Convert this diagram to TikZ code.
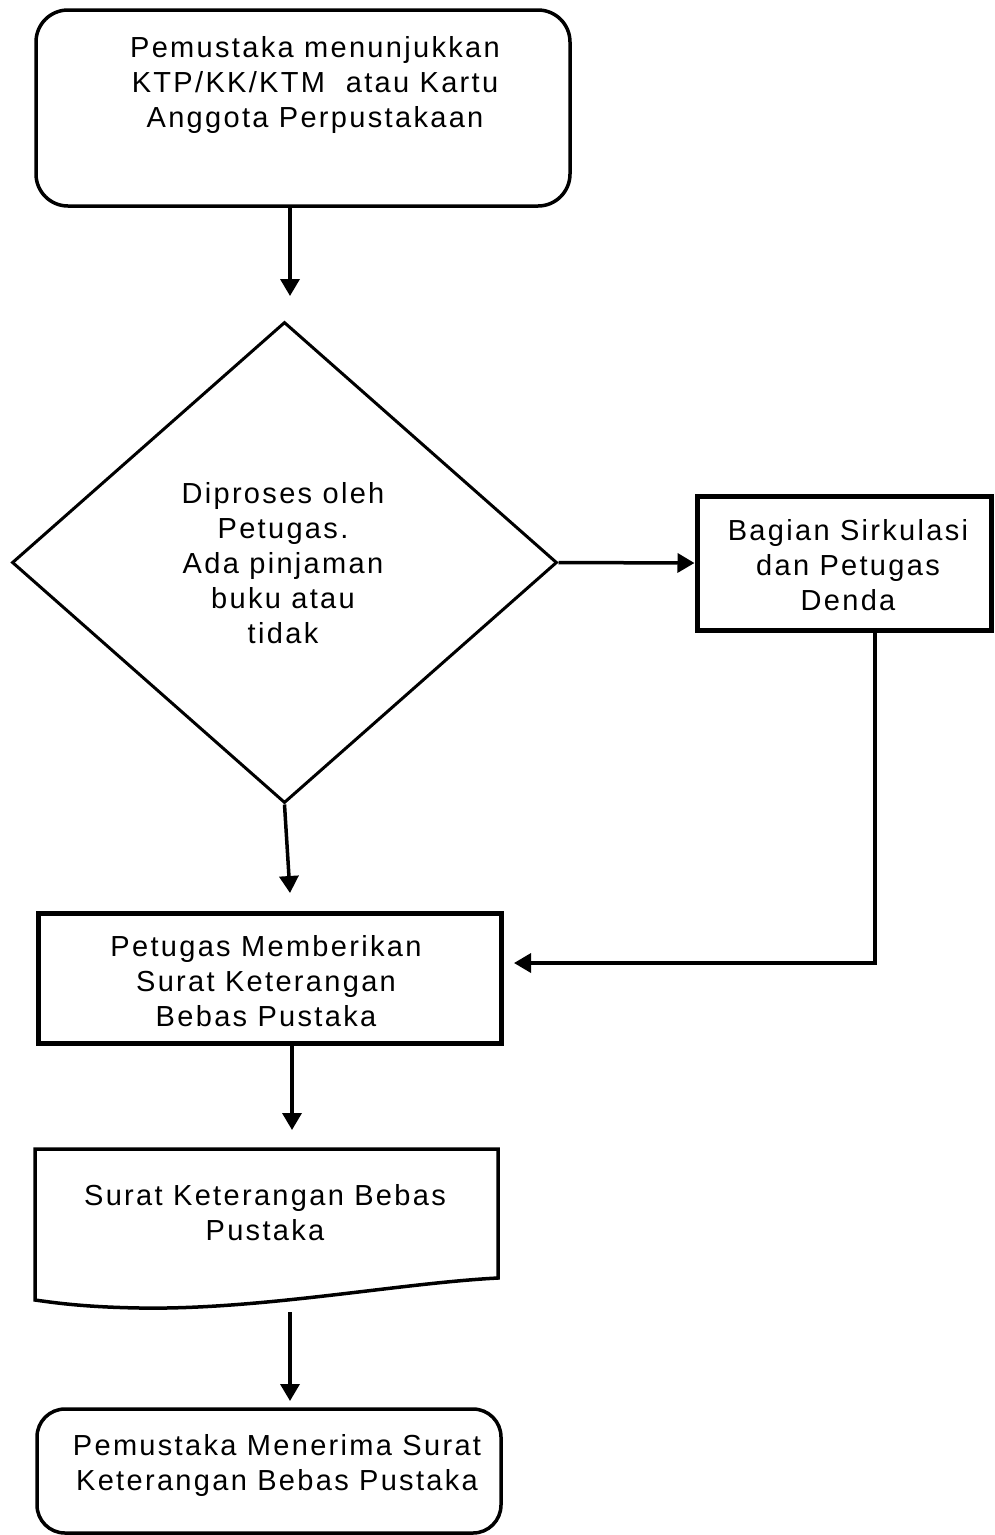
\documentclass[tikz,border=0pt]{standalone}
\usepackage{fontspec}
\setmainfont{Liberation Sans}[LetterSpace=8]
\usetikzlibrary{shapes.geometric,arrows.meta,calc}
\begin{document}
\begin{tikzpicture}[x=1pt,y=-1pt,
  txt/.style={align=center,font=\fontsize{29pt}{35pt}\selectfont,inner sep=0pt},
  rbox/.style={draw,line width=3.5pt,rounded corners=32pt,inner sep=0pt},
  pbox/.style={draw,line width=5pt,inner sep=0pt},
  arr/.style={line width=3.5pt,-{Triangle[length=17pt,width=19pt]}}]
\useasboundingbox (0,0) rectangle (994,1535);
% shapes
\node[rbox,minimum width=534pt,minimum height=196pt] (start) at (303,108) {};
\node[draw,diamond,line width=3pt,inner sep=0pt,minimum width=545pt,minimum height=481pt] (dia) at (284.5,562.5) {};
\node[pbox,minimum width=294pt,minimum height=134pt] (right) at (844,563) {};
\node[pbox,minimum width=463pt,minimum height=130pt] (box2) at (269.5,978) {};
\node[inner sep=0pt,minimum width=463pt,minimum height=151pt] (doc) at (266.5,1224.5) {};
\draw[line width=3.5pt,line join=miter] (35,1149) -- (498,1149) -- (498,1278)
  .. controls (400,1283) and (260,1310) .. (140,1308)
  .. controls (80,1307) and (50,1302) .. (35,1300) -- cycle;
\node[rbox,rounded corners=28pt,minimum width=464pt,minimum height=124pt] (fin) at (269,1471) {};
% texts
\node[txt] (startT) at (315,85) {Pemustaka menunjukkan\\KTP/KK/KTM\ \ atau Kartu\\Anggota Perpustakaan};
\node[txt] (diaT) at (283,563) {Diproses oleh\\Petugas.\\Ada pinjaman\\buku atau\\tidak};
\node[txt] (rightT) at (848,565) {Bagian Sirkulasi\\dan Petugas\\Denda};
\node[txt] (box2T) at (266,981) {Petugas Memberikan\\Surat Keterangan\\Bebas Pustaka};
\node[txt] (docT) at (265,1213) {Surat Keterangan Bebas\\Pustaka};
\node[txt] (finT) at (277,1465) {Pemustaka Menerima Surat\\Keterangan Bebas Pustaka};
% connectors
\coordinate (a1) at (290,296);
\coordinate (a3) at (290,893);
\coordinate (k) at (875,963);
\coordinate (a4) at (514,963);
\coordinate (a5) at (292,1130);
\coordinate (d6) at (290,1312);
\coordinate (a6) at (290,1401);
\draw[arr] (start.south -| a1) -- (a1);
\draw[arr] (dia.east) -- (right.west);
\draw[arr] (dia.south) -- (a3);
\draw[arr] (k |- right.south) -- (k) -- (a4);
\draw[arr] (box2.south -| a5) -- (a5);
\draw[arr] (d6) -- (a6);
\end{tikzpicture}
\end{document}
